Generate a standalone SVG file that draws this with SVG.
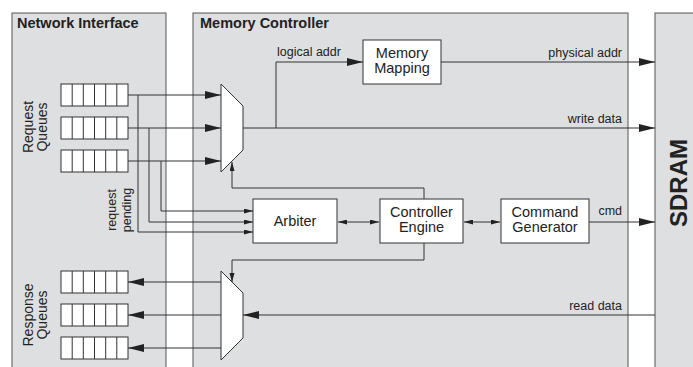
<svg xmlns="http://www.w3.org/2000/svg" width="693" height="367" viewBox="0 0 693 367">
<style>
.panel{fill:#dedfe1;stroke:#555;stroke-width:1}
.box{fill:#fff;stroke:#333;stroke-width:1}
.ln{fill:none;stroke:#333;stroke-width:1}
.big{marker-end:url(#ab)}
.sm{marker-end:url(#as)}
.t{font-family:"Liberation Sans",Arial,sans-serif;fill:#222}
.title{font-size:14.5px;font-weight:bold}
.blk{font-size:14.5px;text-anchor:middle}
.lbl{font-size:12.5px}
.side{font-size:14px;text-anchor:middle}
</style>
<defs>
<marker id="ab" markerUnits="userSpaceOnUse" markerWidth="17" markerHeight="9" refX="16" refY="4" orient="auto"><path d="M0,0 L16,4 L0,8 z" fill="#222"/></marker>
<marker id="as" markerUnits="userSpaceOnUse" markerWidth="10" markerHeight="6" refX="9" refY="2.5" orient="auto"><path d="M0,0 L9,2.5 L0,5 z" fill="#222"/></marker>
<marker id="asb" markerUnits="userSpaceOnUse" markerWidth="10" markerHeight="6" refX="0" refY="2.5" orient="auto"><path d="M9,0 L0,2.5 L9,5 z" fill="#222"/></marker>
<g id="queue">
<rect x="0" y="0" width="67" height="22" class="box"/>
<path d="M11.2,0V22M22.3,0V22M33.5,0V22M44.7,0V22M55.8,0V22" class="ln"/>
</g>
</defs>
<rect width="693" height="367" fill="#fff"/>
<g id="network-interface">
<rect x="12" y="13" width="154" height="370" class="panel"/>
<text x="17" y="28" class="t title">Network Interface</text>
<text class="t side" transform="translate(33,127) rotate(-90)">Request</text>
<text class="t side" transform="translate(47,127) rotate(-90)">Queues</text>
<text class="t side" transform="translate(33,315) rotate(-90)">Response</text>
<text class="t side" transform="translate(47,315) rotate(-90)">Queues</text>
<text class="t lbl" text-anchor="middle" transform="translate(116,210) rotate(-90)">request</text>
<text class="t lbl" text-anchor="middle" transform="translate(131,210) rotate(-90)">pending</text>
</g>
<g id="memory-controller">
<rect x="193" y="13" width="435" height="370" class="panel"/>
<text x="200" y="28" class="t title">Memory Controller</text>
</g>
<g id="sdram">
<rect x="655" y="13" width="60" height="370" class="panel"/>
<text class="t" font-size="24" font-weight="bold" text-anchor="middle" transform="translate(687,183) rotate(-90)">SDRAM</text>
</g>
<g id="request-queue-1"><use href="#queue" x="61" y="84"/></g>
<g id="request-queue-2"><use href="#queue" x="61" y="117"/></g>
<g id="request-queue-3"><use href="#queue" x="61" y="150"/></g>
<g id="response-queue-1"><use href="#queue" x="61" y="271"/></g>
<g id="response-queue-2"><use href="#queue" x="61" y="304"/></g>
<g id="response-queue-3"><use href="#queue" x="61" y="337"/></g>
<g id="connectors">
<path d="M128,95H221" class="ln big"/>
<path d="M128,128H221" class="ln big"/>
<path d="M128,161H221" class="ln big"/>
<path d="M138,95V232H253" class="ln sm"/>
<path d="M149,128V222H253" class="ln sm"/>
<path d="M161,161V211H253" class="ln sm"/>
<path d="M243,128H655" class="ln big"/>
<path d="M276,128V62H363" class="ln big"/>
<path d="M441,62H655" class="ln big"/>
<path d="M424,199V188H232V162" class="ln sm"/>
<path d="M424,243V260H232V282" class="ln sm"/>
<path d="M338,222H379" class="ln sm" marker-start="url(#asb)"/>
<path d="M464,222H500" class="ln sm" marker-start="url(#asb)"/>
<path d="M589,222H655" class="ln big"/>
<path d="M655,315H243" class="ln big"/>
<path d="M221,282H128" class="ln big"/>
<path d="M221,315H128" class="ln big"/>
<path d="M221,348H128" class="ln big"/>
<text x="277" y="56" class="t lbl">logical addr</text>
<text x="622" y="57" class="t lbl" text-anchor="end">physical addr</text>
<text x="622" y="123" class="t lbl" text-anchor="end">write data</text>
<text x="622" y="215" class="t lbl" text-anchor="end">cmd</text>
<text x="622" y="310" class="t lbl" text-anchor="end">read data</text>
</g>
<g id="request-mux"><path d="M221,84L243,106V150L221,172Z" class="box"/></g>
<g id="response-mux"><path d="M221,271L243,293V338L221,360Z" class="box"/></g>
<g id="memory-mapping">
<rect x="363" y="40" width="78" height="44" class="box"/>
<text x="402" y="58" class="t blk">Memory</text>
<text x="402" y="73" class="t blk">Mapping</text>
</g>
<g id="arbiter">
<rect x="253" y="199" width="84" height="44" class="box"/>
<text x="295" y="226" class="t blk">Arbiter</text>
</g>
<g id="controller-engine">
<rect x="380" y="199" width="83" height="44" class="box"/>
<text x="421.5" y="217" class="t blk">Controller</text>
<text x="421.5" y="232" class="t blk">Engine</text>
</g>
<g id="command-generator">
<rect x="501" y="199" width="88" height="44" class="box"/>
<text x="545" y="217" class="t blk">Command</text>
<text x="545" y="232" class="t blk">Generator</text>
</g>
</svg>
